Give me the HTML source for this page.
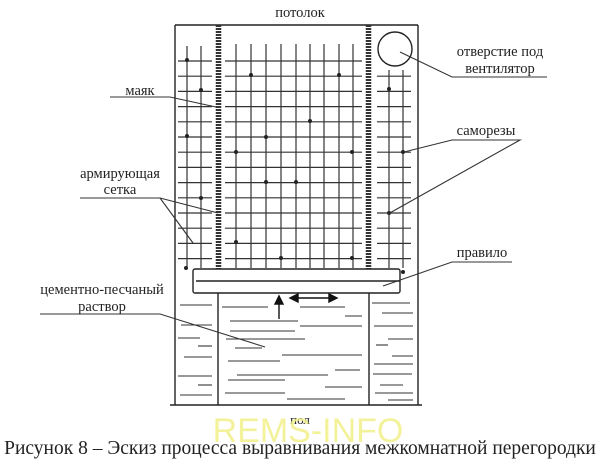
<!DOCTYPE html>
<html><head><meta charset="utf-8"><style>
body{margin:0;background:#fff;}
svg{display:block;}
text{font-family:"Liberation Serif",serif;fill:#222;}
</style></head><body>
<svg width="600" height="461" viewBox="0 0 600 461" xmlns="http://www.w3.org/2000/svg">
<g stroke="#222" fill="none" stroke-width="1.4">
<line x1="175" y1="25" x2="418" y2="25"/>
<line x1="175" y1="25" x2="175" y2="405"/>
<line x1="418" y1="25" x2="418" y2="405"/>
<line x1="170" y1="405" x2="422" y2="405"/>
<line x1="218" y1="293" x2="218" y2="405"/>
<line x1="369" y1="293" x2="369" y2="405"/>
<circle cx="395" cy="49" r="17"/>
</g>
<g id="grid" stroke="#333" stroke-width="1.2"></g>
<g stroke="#333" stroke-width="5.5">
<line x1="218.5" y1="25" x2="218.5" y2="269" stroke-dasharray="2,1"/>
<line x1="368.5" y1="25" x2="368.5" y2="269" stroke-dasharray="2,1"/>
</g>
<g fill="#222">
<circle cx="187" cy="60" r="2"/><circle cx="201" cy="90" r="2"/><circle cx="187" cy="136" r="2"/>
<circle cx="201" cy="198" r="2"/><circle cx="236" cy="152" r="2"/><circle cx="236" cy="242" r="2"/>
<circle cx="251" cy="75" r="2"/><circle cx="266" cy="182" r="2"/><circle cx="296" cy="182" r="2"/>
<circle cx="310" cy="121" r="2"/><circle cx="339" cy="75" r="2"/><circle cx="352" cy="152" r="2"/>
<circle cx="281" cy="258" r="2"/><circle cx="352" cy="258" r="2"/><circle cx="266" cy="137" r="2"/>
<circle cx="389" cy="89" r="2"/><circle cx="403" cy="152" r="2"/><circle cx="389" cy="213" r="2"/>
<circle cx="186" cy="268" r="2"/><circle cx="403" cy="272" r="2"/>
</g>
<g stroke="#222" stroke-width="1.4" fill="#fff">
<rect x="193" y="269" width="207" height="24" rx="2"/>
<line x1="196" y1="281" x2="400" y2="281"/>
</g>
<g id="mortar" stroke="#333" stroke-width="1.1"></g>
<g stroke="#111" stroke-width="1.4" fill="#111">
<line x1="279" y1="319" x2="279" y2="303"/><polygon points="275,304 283,304 279,296"/>
<line x1="296" y1="298" x2="330" y2="298"/><polygon points="290,298 298,294 298,302"/><polygon points="337,298 329,294 329,302"/>
</g>
<g stroke="#333" stroke-width="1.1" fill="none">
<polyline points="110,97 170,97 216,107"/>
<polyline points="400,52 452,77 547,77"/>
<polyline points="404,152 452,140 520,140 388,214"/>
<polyline points="80,198 160,198 218,213"/>
<line x1="160" y1="198" x2="193" y2="243"/>
<polyline points="512,262 452,262 383,286"/>
<polyline points="40,314 160,314 265,347"/>
</g>
<text x="300" y="17" font-size="14.5" text-anchor="middle">потолок</text>
<text x="500" y="56" font-size="14.5" text-anchor="middle">отверстие под</text>
<text x="500" y="73" font-size="14.5" text-anchor="middle">вентилятор</text>
<text x="140" y="95" font-size="14.5" text-anchor="middle">маяк</text>
<text x="486" y="135" font-size="14.5" text-anchor="middle">саморезы</text>
<text x="120" y="178" font-size="14.5" text-anchor="middle">армирующая</text>
<text x="120" y="194" font-size="14.5" text-anchor="middle">сетка</text>
<text x="482" y="257" font-size="14.5" text-anchor="middle">правило</text>
<text x="102" y="294" font-size="14.5" text-anchor="middle">цементно-песчаный</text>
<text x="102" y="311" font-size="14.5" text-anchor="middle">раствор</text>
<text x="300" y="424" font-size="13" text-anchor="middle">пол</text>
<text x="308" y="442" font-size="34" text-anchor="middle" style="fill:#f2f08a;font-family:'Liberation Sans',sans-serif" opacity="0.85">REMS-INFO</text>
<text x="300" y="454" font-size="19.5" text-anchor="middle">Рисунок 8 – Эскиз процесса выравнивания межкомнатной перегородки</text>
</svg>
<script>
var g=document.getElementById('grid'),ns="http://www.w3.org/2000/svg";
function L(a,b,c,d,p){var l=document.createElementNS(ns,'line');l.setAttribute('x1',a);l.setAttribute('y1',b);l.setAttribute('x2',c);l.setAttribute('y2',d);(p||g).appendChild(l);}
var xs=[236,251,266,281,296,310,324,339,353];
xs.forEach(function(x){L(x,44,x,268);});
[187,201].forEach(function(x){L(x,46,x,268);});
[389,403].forEach(function(x){L(x,70,x,268);});
for(var y=61;y<=260;y+=15.2){L(225,y,362,y);L(178,y,212,y);if(y>70)L(377,y,411,y);}
var m=document.getElementById('mortar');
var ls=[[222,307,268],[300,307,345],[230,321,298],[345,316,362],[230,331,295],[300,326,362],[226,339,305],[235,348,262],[282,355,362],[228,361,280],[335,370,360],[237,375,328],[228,380,285],[325,387,362],[225,393,285],[287,399,345],
[180,305,212],[181,325,212],[178,338,200],[198,346,212],[184,357,212],[178,376,212],[198,385,212],[180,395,212],
[372,303,410],[382,313,413],[374,326,413],[388,339,413],[376,345,388],[392,356,413],[374,364,413],[373,374,412],[380,385,403],[375,393,413],[388,400,413]];
ls.forEach(function(a){L(a[0],a[1],a[2],a[1],m);});
</script>
</body></html>
